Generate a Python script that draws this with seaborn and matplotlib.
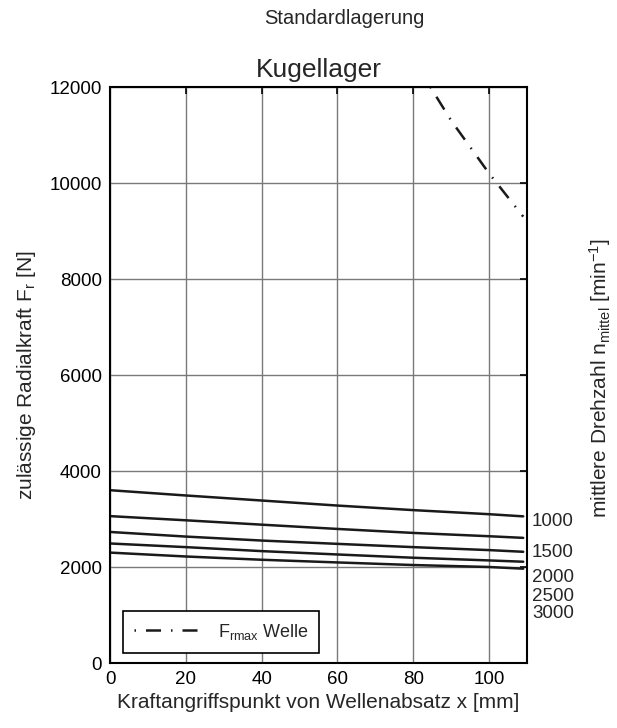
import numpy as np
import pandas as pd
import matplotlib
matplotlib.use("Agg")
import matplotlib.pyplot as plt
import seaborn as sns

# ---- data ----
x_pos = [0, 20, 40, 60, 80, 100, 109]
drehzahl = ["1000", "1500", "2000", "2500", "3000"]
fr_1000 = [3600, 3490, 3385, 3280, 3185, 3100, 3055]
fr_1500 = [3060, 2973, 2882, 2793, 2710, 2641, 2607]
fr_2000 = [2730, 2634, 2551, 2482, 2414, 2352, 2317]
fr_2500 = [2490, 2414, 2331, 2261, 2193, 2137, 2110]
fr_3000 = [2300, 2219, 2151, 2095, 2041, 2000, 1965]

fmax_x = [84.5, 90, 100, 109]
fmax_y = [12000, 11300, 10200, 9300]

x_ticks = [0, 20, 40, 60, 80, 100]
y_ticks = [0, 2000, 4000, 6000, 8000, 10000, 12000]

rows = []
for lab, vals in zip(drehzahl, [fr_1000, fr_1500, fr_2000, fr_2500, fr_3000]):
    for xv, yv in zip(x_pos, vals):
        rows.append({"x": xv, "Fr": yv, "n": lab})
df = pd.DataFrame(rows)
df_fmax = pd.DataFrame({"x": fmax_x, "Fr": fmax_y})

sns.set_theme(style="white")
plt.rcParams["font.family"] = ["Liberation Sans", "DejaVu Sans"]
plt.rcParams["mathtext.fontset"] = "custom"
plt.rcParams["mathtext.rm"] = "Liberation Sans"
plt.rcParams["mathtext.it"] = "Liberation Sans"

fig = plt.figure(figsize=(6.17, 7.28), dpi=100)
ax = fig.add_axes([110 / 617, 1 - 663 / 728, 417 / 617, 576 / 728])

sns.lineplot(data=df, x="x", y="Fr", units="n", estimator=None,
             color="#1a1a1a", lw=1.8, ax=ax, legend=False)
sns.lineplot(data=df_fmax, x="x", y="Fr", color="#1a1a1a", lw=1.8,
             linestyle=(0, (0.6, 4, 6, 4)), ax=ax,
             label=r"F$_{\mathrm{rmax}}$ Welle")

ax.set_xlim(0, 110)
ax.set_ylim(0, 12000)
ax.set_xticks(x_ticks)
ax.set_yticks(y_ticks)
ax.grid(True, color="#7a7a7a", lw=1.0)
ax.set_axisbelow(True)
for s in ax.spines.values():
    s.set_color("black")
    s.set_linewidth(1.5)
ax.tick_params(direction="in", top=True, right=True, length=5,
               width=1.2, labelsize=13.5, colors="black", pad=6)

ax.set_xlabel("Kraftangriffspunkt von Wellenabsatz x [mm]", fontsize=15, labelpad=3)
ax.set_ylabel(r"zulässige Radialkraft F$_{\mathrm{r}}$ [N]", fontsize=15, labelpad=8)
ax.set_title("Kugellager", fontsize=19, pad=7)
fig.text(344 / 617, 1 - 19 / 728, "Standardlagerung", ha="center", va="center", fontsize=14.5)

# rotational speed labels on the right
label_y = [0.2453, 0.191, 0.1476, 0.115, 0.0868]
for lab, yf in zip(drehzahl, label_y):
    ax.text(1.012, yf, lab, transform=ax.transAxes, ha="left", va="center", fontsize=13.5)

fig.text(600 / 617, 0.48, r"mittlere Drehzahl n$_{\mathrm{mittel}}$ [min$^{-1}$]",
         rotation=90, ha="center", va="center", fontsize=15)

leg = ax.legend(loc="lower left", bbox_to_anchor=(0.031, 0.018), borderaxespad=0,
                frameon=True, fancybox=False, edgecolor="black", framealpha=1,
                fontsize=13, handlelength=3.8, borderpad=0.6, handletextpad=0.85)
leg.get_frame().set_linewidth(1.2)

fig.savefig("out.png", dpi=100)
